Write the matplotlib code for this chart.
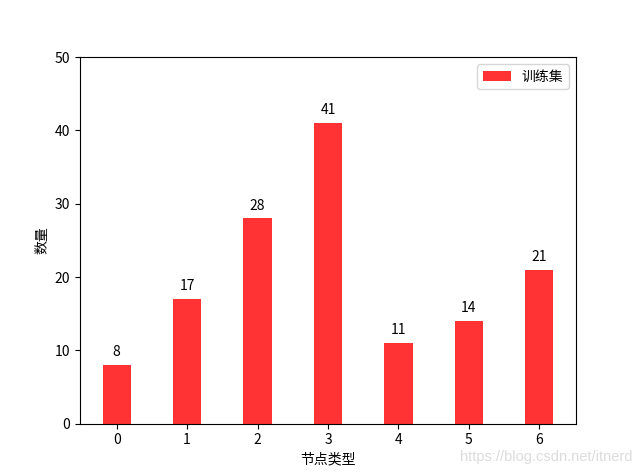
import numpy as np
import matplotlib
matplotlib.use('Agg')
import matplotlib.pyplot as plt

plt.rcParams['font.family'] = ['Noto Sans CJK SC', 'DejaVu Sans']
plt.rcParams['axes.unicode_minus'] = False

node_types = [0, 1, 2, 3, 4, 5, 6]
counts = [8, 17, 28, 41, 11, 14, 21]

fig, ax = plt.subplots(figsize=(6.4, 4.76), dpi=100)
x = np.arange(len(node_types))
bars = ax.bar(x, counts, width=0.4, color='red', alpha=0.8, label='训练集')

# value labels on top of bars
for rect in bars:
    h = rect.get_height()
    ax.text(rect.get_x() + rect.get_width() / 2, h + 0.8, str(int(h)),
            ha='center', va='bottom', fontsize=10)

ax.set_xticks(x)
ax.set_xticklabels([str(n) for n in node_types])
ax.set_ylim(0, 50)
ax.set_xlabel('节点类型')
ax.set_ylabel('数量')
ax.legend(loc='upper right')

fig.text(0.988, 0.025, 'https://blog.csdn.net/itnerd', ha='right', va='bottom',
         color='#dcdcdc', fontsize=10.5, family='Liberation Sans')

fig.savefig('out.png', dpi=100)
